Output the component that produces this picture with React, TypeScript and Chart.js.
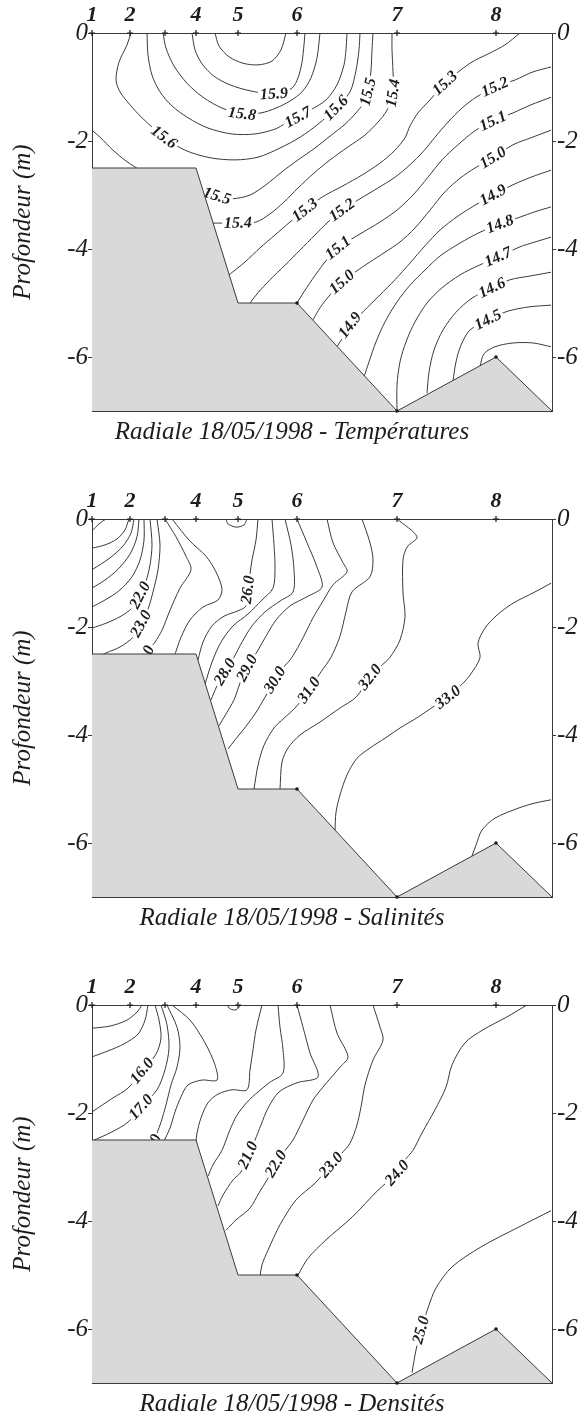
import React, { useEffect, useRef } from 'react';
import { Chart, registerables } from 'chart.js';
Chart.register(...registerables);

const FONT = '"Liberation Serif", "Times New Roman", serif';

// ---- shared section geometry (distance units along the radial, depth in m) ----
const X_MAX = 460;
const DEPTH_MIN = -7;
const STATION_X = [0, 38, 73, 104, 146, 205, 305, 404];
const STATION_LABELS = ['1', '2', '', '4', '5', '6', '7', '8'];
const DEPTH_TICKS = [0, -2, -4, -6];
const BATHY: [number, number][] = [[0, -2.5], [104, -2.5], [146, -5], [205, -5], [305, -7], [404, -6], [460, -7]];
const BOTTOM_STATIONS: [number, number][] = [[205, -5], [305, -7], [404, -6]];

type Contour = [number, [number, number][]];
type Label = [number, number, number];

// ---- Températures ----
const TEMP_CONTOURS: Contour[] = [
  [16.0, [[123, 0], [127, -0.24], [137, -0.44], [151, -0.56], [166, -0.59], [180, -0.52], [189, -0.31], [194, 0]]],
  [15.9, [[100, 0], [103, -0.31], [110, -0.57], [122, -0.8], [138, -0.96], [158, -1.07], [182, -1.13], [200, -1.02], [206, -0.83], [210, -0.54], [212, -0.22], [213, 0]]],
  [15.8, [[71, 0], [74, -0.28], [82, -0.61], [95, -0.93], [111, -1.19], [130, -1.39], [150, -1.5], [169, -1.48], [184, -1.39], [198, -1.26], [210, -1.09], [219, -0.83], [225, -0.46], [228, 0]]],
  [15.7, [[55, 0], [56, -0.41], [60, -0.78], [68, -1.09], [80, -1.35], [96, -1.57], [116, -1.76], [140, -1.87], [163, -1.87], [183, -1.78], [194, -1.67], [206, -1.56], [220, -1.41], [234, -1.24], [245, -0.96], [252, -0.59], [254, -0.31], [255, 0]]],
  [15.6, [[39, 0], [35, -0.22], [27, -0.54], [24, -0.87], [28, -1.09], [38, -1.33], [50, -1.57], [72, -1.93], [93, -2.17], [118, -2.31], [143, -2.35], [166, -2.3], [188, -2.13], [208, -1.93], [226, -1.69], [244, -1.39], [258, -1.09], [264, -0.69], [267, -0.31], [268, 0]]],
  [15.5, [[0, -1.8], [8, -1.93], [21, -2.17], [34, -2.37], [48, -2.54], [58, -2.67]]],
  [15.5, [[111, -2.91], [125, -3.02], [140, -3.07], [158, -3.0], [174, -2.81], [190, -2.57], [206, -2.35], [223, -2.13], [238, -1.91], [253, -1.69], [264, -1.48], [271, -1.31], [276, -1.09], [279, -0.69], [280, -0.31], [281, 0]]],
  [15.4, [[121, -3.52], [146, -3.52], [164, -3.5], [178, -3.35], [192, -3.13], [206, -2.87], [221, -2.61], [238, -2.35], [256, -2.11], [273, -1.89], [286, -1.65], [295, -1.43], [301, -1.11], [301, -0.72], [300, -0.31], [300, 0]]],
  [15.3, [[428, 0], [413, -0.22], [398, -0.37], [378, -0.56], [353, -0.93], [338, -1.24], [326, -1.48], [318, -1.72], [313, -1.94], [303, -2.17], [288, -2.41], [270, -2.63], [251, -2.83], [230, -3.04], [213, -3.28], [198, -3.5], [183, -3.74], [168, -3.98], [153, -4.24], [137, -4.48]]],
  [15.2, [[459, -0.63], [441, -0.72], [423, -0.87], [403, -1.0], [384, -1.19], [370, -1.39], [356, -1.65], [343, -1.93], [331, -2.2], [318, -2.44], [303, -2.67], [286, -2.87], [268, -3.07], [250, -3.28], [236, -3.5], [223, -3.74], [208, -4.02], [193, -4.3], [178, -4.57], [166, -4.81], [158, -5.0]]],
  [15.1, [[459, -1.19], [439, -1.33], [421, -1.48], [401, -1.63], [383, -1.81], [366, -2.07], [350, -2.35], [336, -2.67], [321, -3.0], [305, -3.28], [288, -3.5], [270, -3.7], [246, -3.98], [233, -4.24], [220, -4.57], [210, -4.85], [205, -5.0]]],
  [15.0, [[459, -1.8], [439, -1.94], [421, -2.07], [401, -2.31], [383, -2.5], [368, -2.69], [353, -2.94], [338, -3.28], [323, -3.61], [308, -3.87], [293, -4.06], [278, -4.24], [266, -4.39], [250, -4.61], [238, -4.85], [228, -5.09], [221, -5.31]]],
  [14.9, [[459, -2.54], [439, -2.67], [421, -2.81], [401, -3.0], [383, -3.19], [366, -3.39], [348, -3.65], [333, -3.94], [318, -4.26], [303, -4.57], [288, -4.85], [276, -5.07], [268, -5.22], [258, -5.41], [251, -5.63], [245, -5.81]]],
  [14.8, [[459, -3.22], [443, -3.31], [428, -3.41], [408, -3.54], [388, -3.69], [368, -3.89], [348, -4.13], [333, -4.39], [318, -4.67], [305, -4.98], [293, -5.35], [284, -5.72], [277, -6.09], [272, -6.37]]],
  [14.7, [[459, -3.78], [443, -3.87], [428, -3.96], [406, -4.15], [386, -4.31], [368, -4.48], [350, -4.72], [335, -5.0], [323, -5.35], [314, -5.72], [308, -6.09], [305, -6.52], [305, -7.0]]],
  [14.6, [[459, -4.43], [438, -4.5], [418, -4.57], [400, -4.72], [380, -4.91], [364, -5.17], [351, -5.5], [342, -5.87], [337, -6.28], [335, -6.67]]],
  [14.5, [[459, -5.04], [438, -5.07], [416, -5.15], [396, -5.31], [378, -5.5], [369, -5.78], [364, -6.09], [361, -6.44]]],
  [14.4, [[388, -6.17], [392, -5.94], [403, -5.81], [421, -5.74], [441, -5.74], [459, -5.81]]],
];
const TEMP_LABELS: Label[] = [
  [15.9, 182, -1.13], [15.8, 150, -1.5], [15.7, 206, -1.56], [15.6, 72, -1.93], [15.6, 244, -1.39],
  [15.5, 125, -3.02], [15.5, 276, -1.09], [15.4, 146, -3.52], [15.4, 301, -1.11], [15.3, 353, -0.93],
  [15.3, 213, -3.28], [15.2, 403, -1.0], [15.2, 250, -3.28], [15.1, 401, -1.63], [15.1, 246, -3.98],
  [15.0, 401, -2.31], [15.0, 250, -4.61], [14.9, 401, -3.0], [14.9, 258, -5.41], [14.8, 408, -3.54],
  [14.7, 406, -4.15], [14.6, 400, -4.72], [14.5, 396, -5.31],
];

// ---- Salinités ----
const SAL_CONTOURS: Contour[] = [
  [17, [[0, -0.22], [7, -0.09], [14, 0]]],
  [18, [[37, 0], [33, -0.2], [25, -0.37], [13, -0.48], [0, -0.54]]],
  [19, [[42, 0], [39, -0.26], [31, -0.5], [18, -0.72], [0, -0.94]]],
  [20, [[47, 0], [45, -0.33], [38, -0.65], [26, -0.93], [13, -1.13], [0, -1.28]]],
  [21, [[52, 0], [52, -0.39], [48, -0.76], [40, -1.07], [27, -1.33], [13, -1.5], [0, -1.63]]],
  [22, [[58, 0], [60, -0.48], [58, -0.85], [54, -1.15], [48, -1.41], [40, -1.65], [28, -1.81], [14, -1.93], [0, -2.02]]],
  [23, [[65, 0], [68, -0.48], [66, -0.94], [61, -1.35], [56, -1.67], [49, -1.94], [41, -2.19], [28, -2.37], [14, -2.48], [5, -2.56]]],
  [24, [[73, 0], [84, -0.33], [94, -0.69], [99, -0.94], [88, -1.28], [78, -1.69], [70, -2.06], [63, -2.28], [56, -2.46], [51, -2.69]]],
  [25, [[80, 0], [98, -0.41], [114, -0.69], [124, -0.98], [130, -1.3], [126, -1.5], [111, -1.63], [98, -1.87], [89, -2.19], [82, -2.56]]],
  [25, [[134, 0], [136, -0.09], [144, -0.15], [152, -0.11], [155, 0]]],
  [26, [[166, 0], [164, -0.39], [160, -0.76], [158, -1.02], [156, -1.31], [154, -1.61], [146, -1.7], [132, -1.8], [120, -1.98], [111, -2.28], [106, -2.61]]],
  [27, [[180, 0], [182, -0.48], [183, -0.91], [181, -1.28], [170, -1.5], [156, -1.76], [141, -1.98], [129, -2.28], [120, -2.65], [113, -3.06]]],
  [28, [[193, 0], [199, -0.48], [202, -0.94], [201, -1.35], [188, -1.52], [173, -1.72], [160, -1.98], [150, -2.28], [142, -2.56], [133, -2.83], [125, -3.09], [119, -3.35]]],
  [29, [[205, 0], [215, -0.44], [225, -0.89], [230, -1.26], [215, -1.44], [198, -1.61], [184, -1.87], [174, -2.17], [165, -2.46], [155, -2.76], [148, -3.04], [142, -3.35], [134, -3.61], [127, -3.83]]],
  [30, [[235, 0], [241, -0.44], [251, -0.81], [255, -0.98], [241, -1.22], [231, -1.52], [221, -1.83], [211, -2.2], [200, -2.56], [191, -2.76], [183, -2.98], [173, -3.3], [163, -3.61], [151, -3.91], [143, -4.09], [136, -4.26]]],
  [31, [[270, 0], [278, -0.44], [281, -0.76], [278, -1.07], [260, -1.35], [254, -1.72], [248, -2.17], [239, -2.56], [229, -2.83], [217, -3.17], [204, -3.48], [192, -3.69], [182, -3.87], [172, -4.19], [166, -4.56], [162, -5.0]]],
  [32, [[305, 0], [325, -0.33], [315, -0.52], [311, -0.76], [311, -1.37], [313, -1.81], [308, -2.24], [298, -2.56], [288, -2.74], [278, -2.93], [264, -3.3], [248, -3.5], [228, -3.76], [208, -4.0], [196, -4.24], [190, -4.5], [188, -5.0]]],
  [33, [[459, -1.19], [443, -1.35], [421, -1.56], [405, -1.78], [393, -2.02], [386, -2.3], [388, -2.57], [378, -2.89], [370, -3.06], [356, -3.3], [341, -3.48], [326, -3.67], [308, -3.87], [293, -4.06], [278, -4.24], [265, -4.43], [255, -4.74], [248, -5.11], [244, -5.43], [243, -5.76]]],
  [34, [[459, -5.2], [443, -5.26], [427, -5.35], [403, -5.54], [390, -5.76], [384, -6.04], [380, -6.24]]],
];
const SAL_LABELS: Label[] = [
  [22, 48, -1.41], [23, 49, -1.94], [24, 53, -2.6], [26, 156, -1.31], [28, 133, -2.83],
  [29, 155, -2.76], [30, 183, -2.98], [31, 217, -3.17], [32, 278, -2.93], [33, 356, -3.3],
];

// ---- Densités ----
const DENS_CONTOURS: Contour[] = [
  [14, [[0, -0.43], [18, -0.39], [35, -0.28], [45, -0.13], [50, 0]]],
  [15, [[56, 0], [53, -0.28], [46, -0.54], [32, -0.72], [16, -0.85], [0, -0.96]]],
  [16, [[63, 0], [67, -0.28], [69, -0.61], [64, -0.91], [50, -1.22], [36, -1.54], [21, -1.72], [0, -1.98]]],
  [17, [[69, 0], [75, -0.37], [77, -0.8], [73, -1.2], [65, -1.57], [49, -1.89], [36, -2.17], [20, -2.35], [0, -2.52]]],
  [18, [[75, 0], [85, -0.41], [88, -0.78], [85, -1.15], [79, -1.48], [74, -1.85], [69, -2.17], [65, -2.37], [60, -2.57], [56, -2.78]]],
  [19, [[80, 0], [98, -0.28], [113, -0.7], [123, -1.11], [125, -1.39], [110, -1.39], [96, -1.48], [89, -1.7], [83, -1.98], [78, -2.28], [72, -2.52]]],
  [20, [[135, 0], [138, -0.07], [144, -0.09], [149, 0]]],
  [20, [[170, 0], [164, -0.46], [161, -0.83], [158, -1.2], [155, -1.57], [140, -1.57], [126, -1.65], [116, -1.81], [109, -2.09], [105, -2.37], [104, -2.52]]],
  [20, [[186, 0], [188, -0.41], [191, -0.83], [191, -1.26], [178, -1.43], [166, -1.61], [155, -1.8], [145, -2.04], [138, -2.31], [130, -2.69], [121, -2.96], [116, -3.17]]],
  [21, [[205, 0], [211, -0.41], [218, -0.89], [226, -1.33], [205, -1.44], [187, -1.61], [176, -1.91], [169, -2.22], [163, -2.5], [156, -2.78], [149, -3.09], [141, -3.24], [131, -3.52], [126, -3.72]]],
  [22, [[238, 0], [245, -0.52], [256, -0.96], [248, -1.15], [231, -1.52], [221, -1.76], [211, -2.13], [201, -2.5], [192, -2.72], [184, -2.94], [175, -3.24], [167, -3.48], [158, -3.76], [144, -3.98], [134, -4.17]]],
  [23, [[281, 0], [288, -0.41], [291, -0.65], [281, -1.02], [273, -1.48], [269, -1.89], [265, -2.22], [258, -2.56], [249, -2.76], [239, -2.96], [223, -3.3], [204, -3.61], [188, -4.07], [176, -4.54], [170, -4.81], [168, -5.02]]],
  [24, [[435, 0], [415, -0.22], [391, -0.46], [373, -0.7], [360, -1.11], [354, -1.52], [343, -1.94], [330, -2.37], [321, -2.69], [313, -2.87], [305, -3.11], [286, -3.43], [260, -3.93], [234, -4.35], [216, -4.69], [206, -5.0]]],
  [25, [[459, -3.81], [427, -4.11], [389, -4.48], [360, -4.85], [344, -5.24], [336, -5.61], [329, -6.02], [324, -6.39], [320, -6.81]]],
];
const DENS_LABELS: Label[] = [
  [16, 50, -1.22], [17, 49, -1.89], [18, 60, -2.65], [21, 156, -2.78],
  [22, 184, -2.94], [23, 239, -2.96], [24, 305, -3.11], [25, 329, -6.02],
];

const TITLES = [
  'Radiale 18/05/1998 - Températures',
  'Radiale 18/05/1998 - Salinités',
  'Radiale 18/05/1998 - Densités',
];

const CANVAS_W = 584;
const CANVAS_H = 486;
const INK = '#1c1c1c';
const LINE = '#3a3a3a';

function makeLabelPlugin(contours: Contour[], labels: Label[], firstContour: number) {
  return {
    id: 'contourLabels',
    afterDatasetDraw(chart: any, args: any) {
      if (args.index !== firstContour) return;
      const { ctx } = chart;
      const xs = chart.scales.x;
      const ys = chart.scales.y;
      ctx.save();
      ctx.font = `italic bold 16px ${FONT}`;
      ctx.textAlign = 'center';
      ctx.textBaseline = 'middle';
      for (const [v, lx, ly] of labels) {
        const px = xs.getPixelForValue(lx);
        const py = ys.getPixelForValue(ly);
        let best = Infinity;
        let ang = 0;
        for (const [cv, pts] of contours) {
          if (cv !== v) continue;
          const pp = pts.map(([a, b]) => [xs.getPixelForValue(a), ys.getPixelForValue(b)]);
          for (let i = 0; i < pp.length; i++) {
            const d = Math.hypot(pp[i][0] - px, pp[i][1] - py);
            if (d < best) {
              best = d;
              const p0 = pp[Math.max(0, i - 1)];
              const p1 = pp[Math.min(pp.length - 1, i + 1)];
              ang = Math.atan2(p1[1] - p0[1], p1[0] - p0[0]);
            }
          }
        }
        if (ang > Math.PI / 2) ang -= Math.PI;
        if (ang < -Math.PI / 2) ang += Math.PI;
        const text = v.toFixed(1);
        const w = ctx.measureText(text).width;
        ctx.save();
        ctx.translate(px, py);
        ctx.rotate(ang);
        ctx.fillStyle = '#ffffff';
        ctx.fillRect(-w / 2 - 2, -6, w + 4, 12);
        ctx.fillStyle = INK;
        ctx.fillText(text, 0, 0.5);
        ctx.restore();
      }
      ctx.restore();
    },
  };
}

function Panel({ top, contours, labels, title }: { top: number; contours: Contour[]; labels: Label[]; title: string }) {
  const ref = useRef<HTMLCanvasElement>(null);
  useEffect(() => {
    if (!ref.current) return;
    const datasets: any[] = [
      {
        data: BATHY.map(([x, y]) => ({ x, y })),
        borderColor: LINE, borderWidth: 1, backgroundColor: '#d9d9d9',
        fill: 'start', pointRadius: 0, tension: 0, order: 1,
      },
      {
        data: BOTTOM_STATIONS.map(([x, y]) => ({ x, y })),
        showLine: false, pointRadius: 1.8, pointBackgroundColor: INK, pointBorderWidth: 0,
        clip: false, order: 0,
      },
      {
        data: STATION_X.map((x) => ({ x, y: 0 })),
        showLine: false, pointStyle: 'cross', pointRadius: 3, pointBorderColor: INK,
        pointBorderWidth: 1.2, clip: false, order: 0,
      },
    ];
    const first = datasets.length;
    contours.forEach(([v, pts]) => {
      datasets.push({
        label: String(v),
        data: pts.map(([x, y]) => ({ x, y })),
        borderColor: LINE, borderWidth: 1, pointRadius: 0, tension: 0.3, fill: false, order: 2,
      });
    });

    const tickFont = { family: FONT, size: 25, style: 'italic' as const, weight: 'normal' as const };
    const depthTicks = (s: any) => { s.ticks = DEPTH_TICKS.map((value) => ({ value })); };

    const chart = new Chart(ref.current, {
      type: 'line',
      data: { datasets },
      options: {
        animation: false,
        responsive: false,
        events: [],
        layout: { padding: { left: 0, right: 0, top: 0, bottom: CANVAS_H - 411 - 6 - 30 } },
        plugins: {
          legend: { display: false },
          tooltip: { enabled: false },
          title: {
            display: true, text: title, position: 'bottom', align: 'center', color: INK,
            font: { family: FONT, size: 25, style: 'italic', weight: 'normal', lineHeight: 1.2 },
            padding: { top: 0, bottom: 0 },
          },
        },
        scales: {
          x: {
            type: 'linear', position: 'bottom', min: 0, max: X_MAX,
            ticks: { display: false }, grid: { display: false, drawTicks: false },
            border: { display: true, color: LINE, width: 1 },
            afterFit: (s: any) => { s.height = 6; },
          },
          xTop: {
            type: 'linear', position: 'top', min: 0, max: X_MAX,
            afterBuildTicks: (s: any) => { s.ticks = STATION_X.map((value) => ({ value })); },
            ticks: {
              callback: (_v: any, i: number) => STATION_LABELS[i],
              font: { family: FONT, size: 22, style: 'italic', weight: 'bold' },
              color: INK, padding: 4, maxRotation: 0, autoSkip: false,
            },
            grid: { display: false, drawTicks: false },
            border: { display: true, color: LINE, width: 1 },
            afterFit: (s: any) => { s.height = 33; },
          },
          y: {
            type: 'linear', position: 'left', min: DEPTH_MIN, max: 0,
            afterBuildTicks: depthTicks,
            ticks: { callback: (v: any) => String(v), font: tickFont, color: INK, padding: 0 },
            grid: { display: true, drawOnChartArea: false, drawTicks: true, tickLength: 4, color: LINE },
            border: { display: true, color: LINE, width: 1 },
            title: {
              display: true, text: 'Profondeur (m)', color: INK,
              font: { family: FONT, size: 25, style: 'italic', weight: 'normal' },
              padding: { top: 8, bottom: 0 },
            },
            afterFit: (s: any) => { s.width = 92; },
          },
          y2: {
            type: 'linear', position: 'right', min: DEPTH_MIN, max: 0,
            afterBuildTicks: depthTicks,
            ticks: { callback: (v: any) => String(v), font: tickFont, color: INK, padding: 1 },
            grid: { display: true, drawOnChartArea: false, drawTicks: true, tickLength: 4, color: LINE },
            border: { display: true, color: LINE, width: 1 },
            afterFit: (s: any) => { s.width = CANVAS_W - 552; },
          },
        },
      } as any,
      plugins: [makeLabelPlugin(contours, labels, first)],
    });
    return () => chart.destroy();
  }, [contours, labels, title]);

  return (
    <canvas
      ref={ref}
      width={CANVAS_W}
      height={CANVAS_H}
      style={{ position: 'absolute', left: 0, top, width: CANVAS_W, height: CANVAS_H }}
    />
  );
}

export default function App() {
  return (
    <div style={{ position: 'fixed', left: 0, top: 0, width: 584, height: 1416, overflow: 'hidden', background: '#ffffff' }}>
      <Panel top={0} contours={TEMP_CONTOURS} labels={TEMP_LABELS} title={TITLES[0]} />
      <Panel top={486} contours={SAL_CONTOURS} labels={SAL_LABELS} title={TITLES[1]} />
      <Panel top={972} contours={DENS_CONTOURS} labels={DENS_LABELS} title={TITLES[2]} />
    </div>
  );
}
